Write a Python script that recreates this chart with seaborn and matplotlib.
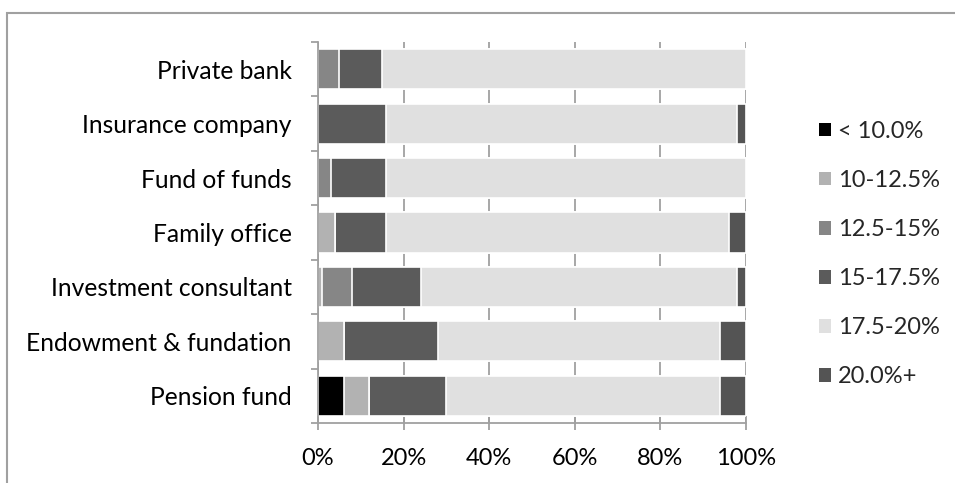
import matplotlib
matplotlib.use("Agg")
import matplotlib.pyplot as plt
from matplotlib.patches import Rectangle
from matplotlib.ticker import FixedLocator, PercentFormatter
import numpy as np
import pandas as pd
import seaborn as sns

# Investor types (top to bottom)
categories = ["Private bank", "Insurance company", "Fund of funds", "Family office",
              "Investment consultant", "Endowment & fundation", "Pension fund"]

# Share of respondents (%) in each target-return bucket
lt_10 = [0, 0, 0, 0, 0, 0, 6]
r10_125 = [0, 0, 0, 4, 1, 6, 6]
r125_15 = [5, 0, 3, 0, 7, 0, 0]
r15_175 = [10, 16, 13, 12, 16, 22, 18]
r175_20 = [85, 82, 84, 80, 74, 66, 64]
gt_20 = [0, 2, 0, 4, 2, 6, 6]

series_labels = ["< 10.0%", "10-12.5%", "12.5-15%", "15-17.5%", "17.5-20%", "20.0%+"]
series_values = [lt_10, r10_125, r125_15, r15_175, r175_20, gt_20]
series_colors = ["#000000", "#b2b2b2", "#868686", "#5b5b5b", "#e0e0e0", "#545454"]

sns.set_theme(style="white")
plt.rcParams["font.family"] = ["Lato", "DejaVu Sans"]
FS = 17
FS_CAT = 17.7

W, H = 955, 483
fig = plt.figure(figsize=(W / 100, H / 100), dpi=100)
ax = fig.add_axes([318 / W, 1 - 423 / H, (746 - 318) / W, (423 - 42) / H])

df = pd.DataFrame({"category": categories})
cum = np.cumsum(np.array(series_values, dtype=float), axis=0)
for i, lab in enumerate(series_labels):
    df[lab] = cum[i]

# Stacked bars: draw cumulative totals from the outermost bucket inwards
handles = {}
for i in reversed(range(len(series_labels))):
    lab = series_labels[i]
    sns.barplot(data=df, x=lab, y="category", order=categories, orient="h",
                color=series_colors[i], saturation=1, width=0.735,
                edgecolor="white", linewidth=1.2, ax=ax, label=lab)
    handles[lab] = Rectangle((0, 0), 1, 1, facecolor=series_colors[i], edgecolor="none")

ax.set_xlim(0, 100)
ax.set_ylim(6.5, -0.5)
ax.set_xlabel("")
ax.set_ylabel("")
ax.xaxis.set_major_locator(FixedLocator([0, 20, 40, 60, 80, 100]))
ax.xaxis.set_major_formatter(PercentFormatter(decimals=0))
ax.yaxis.set_minor_locator(FixedLocator(np.arange(-0.5, 7, 1.0)))

grid_c = "#a0a0a0"
ax.grid(axis="x", color=grid_c, linewidth=1.3)
ax.grid(axis="y", visible=False)
ax.set_axisbelow(True)
for side in ("top", "right"):
    ax.spines[side].set_visible(False)
for side in ("left", "bottom"):
    ax.spines[side].set_color(grid_c)
    ax.spines[side].set_linewidth(1.3)

ax.tick_params(axis="y", which="major", length=0, pad=19, labelsize=FS_CAT, labelcolor="black")
ax.tick_params(axis="y", which="minor", left=True, length=5, width=1.3, color=grid_c)
ax.tick_params(axis="x", which="major", bottom=True, direction="inout", length=10,
               width=1.3, color=grid_c, pad=13, labelsize=FS, labelcolor="black")

ax.legend([handles[l] for l in series_labels], series_labels, frameon=False,
          loc="upper left", bbox_to_anchor=(819 / W, 1 - 121 / H),
          bbox_transform=fig.transFigure, fontsize=FS, handlelength=0.5,
          handleheight=0.5, handletextpad=0.32, labelspacing=1.19, borderpad=0,
          borderaxespad=0)

# Outer chart frame
fig.add_artist(Rectangle((7 / W, -0.2), 2, 1.2 - 12.7 / H, transform=fig.transFigure,
                         fill=False, edgecolor=grid_c, linewidth=1.5))

fig.savefig("out.png", dpi=100)
